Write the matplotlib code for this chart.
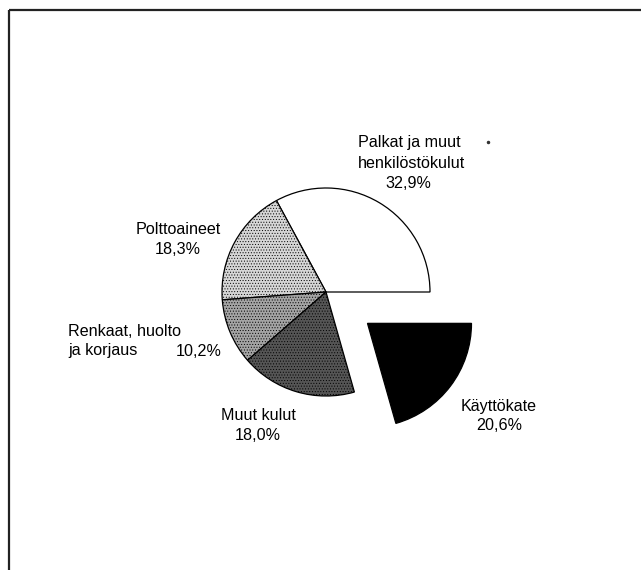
import matplotlib
matplotlib.use("Agg")
import matplotlib.pyplot as plt

# ---- data ----
categories = ["Palkat ja muut\nhenkilöstökulut", "Polttoaineet", "Renkaat, huolto\nja korjaus",
              "Muut kulut", "Käyttökate"]
shares = [32.9, 18.3, 10.2, 18.0, 20.6]
explode = [0, 0, 0, 0, 0.5]
colors = ["#ffffff", "#d6d6d6", "#a4a4a4", "#555555", "#000000"]
hatches = [None, "......", "......", "......", None]

W, H = 641, 570
plt.rcParams['font.family'] = ['Liberation Sans', 'DejaVu Sans']
plt.rcParams['hatch.linewidth'] = 0.4
plt.rcParams['hatch.color'] = '#555555'

fig = plt.figure(figsize=(W / 100, H / 100), dpi=100)
ax = fig.add_axes([0, 0, 1, 1])

def py(y):
    return H - y

cx, cy, R = 326, py(292), 104
wedges, _ = ax.pie(shares, explode=[e * R for e in explode], colors=colors,
                   startangle=0, counterclock=True,
                   radius=R, center=(cx, cy),
                   wedgeprops=dict(edgecolor="black", linewidth=0.9))
for w, h in zip(wedges, hatches):
    if h:
        w.set_hatch(h)

ax.set_xlim(0, W)
ax.set_ylim(0, H)
ax.set_aspect('equal')
ax.axis('off')

def pct(v):
    return f"{v:.1f}".replace(".", ",") + "%"

fs = 11.6
# Palkat
ax.text(358, py(143), "Palkat ja muut", fontsize=fs, ha='left', va='center')
ax.text(358, py(163), "henkilöstökulut", fontsize=fs, ha='left', va='center')
ax.text(408, py(183), pct(shares[0]), fontsize=fs, ha='center', va='center')
# Polttoaineet
ax.text(178, py(230), categories[1], fontsize=fs, ha='center', va='center')
ax.text(178, py(250), pct(shares[1]), fontsize=fs, ha='center', va='center')
# Renkaat
ax.text(68, py(331), "Renkaat, huolto", fontsize=fs, ha='left', va='center')
ax.text(68, py(351), "ja korjaus", fontsize=fs, ha='left', va='center')
ax.text(222, py(351), pct(shares[2]), fontsize=fs, ha='right', va='center')
# Muut kulut
ax.text(258, py(416), categories[3], fontsize=fs, ha='center', va='center')
ax.text(258, py(436), pct(shares[3]), fontsize=fs, ha='center', va='center')
# Käyttökate
ax.text(499, py(406), categories[4], fontsize=fs, ha='center', va='center')
ax.text(499, py(426), pct(shares[4]), fontsize=fs, ha='center', va='center')

# frame (top and left only)
ax.plot([9, W], [py(10), py(10)], color="#222222", lw=1.6, solid_capstyle='butt')
ax.plot([9, 9], [py(10), 0], color="#222222", lw=1.6, solid_capstyle='butt')
ax.plot([488], [py(142)], marker='o', ms=1.5, color='#333333')

fig.savefig("out.png", dpi=100)
